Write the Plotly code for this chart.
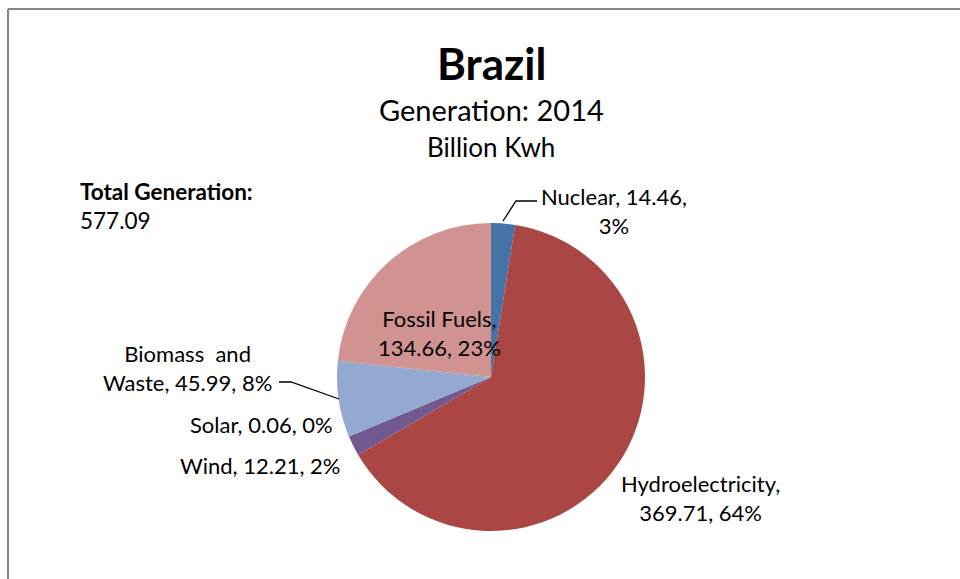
import plotly.graph_objects as go

# --- data ---
sources = ["Nuclear", "Hydroelectricity", "Wind", "Solar", "Biomass  and Waste", "Fossil Fuels"]
generation = [14.46, 369.71, 12.21, 0.06, 45.99, 134.66]
percents = ["3%", "64%", "2%", "0%", "8%", "23%"]
colors = ["#4572A7", "#AA4643", "#71588F", "#4198AF", "#93A9CF", "#D19392"]
total_generation = "577.09"

W, H = 960, 579
FONT = "Lato, Calibri, sans-serif"


def px(x):
    # screen pixel -> paper
    return x / W


def py(y):
    return 1 - y / H


fig = go.Figure(go.Pie(
    labels=sources,
    values=generation,
    marker=dict(colors=colors, line=dict(width=0)),
    sort=False,
    direction="clockwise",
    rotation=0,
    textinfo="none",
    hoverinfo="label+value+percent",
    domain=dict(x=[px(337), px(645)], y=[py(531), py(223)]),
    showlegend=False,
))

# data labels, placed like the excel original
lbl = dict(size=22, color="black", family=FONT)
labels = [
    (614, 211, f"{sources[0]}, {generation[0]:.2f},<br>{percents[0]}", "center", "center"),
    (700, 498, f"{sources[1]},<br>{generation[1]:.2f}, {percents[1]}", "center", "center"),
    (439, 333, f"{sources[5]},<br>{generation[5]:.2f}, {percents[5]}", "center", "center"),
    (274, 368, "Biomass  and<br>Waste, " + f"{generation[4]:.2f}, {percents[4]}", "right", "center"),
    (335, 424, f"{sources[3]}, {generation[3]:.2f}, {percents[3]}", "right", "right"),
    (342, 465, f"{sources[2]}, {generation[2]:.2f}, {percents[2]}", "right", "right"),
]
for x, y, t, anc, al in labels:
    fig.add_annotation(x=px(x), y=py(y), xref="paper", yref="paper", text=t,
                       showarrow=False, xanchor=anc, yanchor="middle", align=al,
                       font=lbl)

# leader lines
for pts in [[(503, 221), (516, 201), (537, 201)], [(279, 382), (291, 382), (339, 399)]]:
    path = "M " + " L ".join(f"{px(a)},{py(b)}" for a, b in pts)
    fig.add_shape(type="path", xref="paper", yref="paper", path=path,
                  line=dict(color="black", width=1.3))

# titles
fig.add_annotation(x=px(491), y=py(63), xref="paper", yref="paper", text="<b>Brazil</b>",
                   showarrow=False, yanchor="middle",
                   font=dict(size=44, color="black", family=FONT))
fig.add_annotation(x=px(491), y=py(110), xref="paper", yref="paper", text="Generation: 2014",
                   showarrow=False, yanchor="middle",
                   font=dict(size=29, color="black", family=FONT))
fig.add_annotation(x=px(491), y=py(147), xref="paper", yref="paper", text="Billion Kwh",
                   showarrow=False, yanchor="middle",
                   font=dict(size=26, color="black", family=FONT))
fig.add_annotation(x=px(78), y=py(206), xref="paper", yref="paper",
                   text=f"<b>Total Generation:</b><br>{total_generation}",
                   showarrow=False, xanchor="left", yanchor="middle", align="left",
                   font=dict(size=22.5, color="black", family=FONT))

# chart area frame (top and left edges only visible)
fig.add_shape(type="line", xref="paper", yref="paper", x0=px(8), y0=py(9), x1=1, y1=py(9),
              line=dict(color="#878787", width=2))
fig.add_shape(type="line", xref="paper", yref="paper", x0=px(8), y0=py(9), x1=px(8), y1=0,
              line=dict(color="#878787", width=2))

fig.update_layout(
    width=W, height=H,
    margin=dict(l=0, r=0, t=0, b=0),
    paper_bgcolor="white",
    plot_bgcolor="white",
    font=dict(family=FONT),
)

# drop the default body margin so the figure fills the window
fig.write_html("out.html", config={"displayModeBar": False},
               post_script="document.body.style.margin='0';document.body.style.overflow='hidden';")
